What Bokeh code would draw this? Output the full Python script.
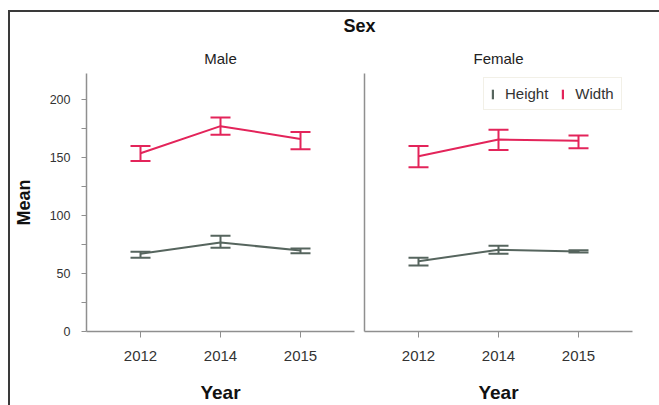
from bokeh.plotting import figure
from bokeh.models import (ColumnDataSource, Whisker, TeeHead, FactorRange, Range1d,
                          FixedTicker, Legend, LegendItem, Label)
from bokeh.layouts import column, row
from bokeh.embed import file_html
from bokeh.resources import INLINE

years = ["2012", "2014", "2015"]

male_height_mean = [67.0, 76.7, 69.8]
male_height_lo = [63.5, 72.2, 67.5]
male_height_hi = [68.7, 82.5, 71.5]
male_width_mean = [153.7, 177.0, 166.0]
male_width_lo = [147.0, 169.5, 157.0]
male_width_hi = [160.0, 184.5, 172.0]

female_height_mean = [60.5, 70.5, 69.0]
female_height_lo = [57.0, 67.0, 68.0]
female_height_hi = [63.5, 74.0, 70.0]
female_width_mean = [151.0, 165.5, 164.5]
female_width_lo = [141.5, 156.5, 158.0]
female_width_hi = [160.0, 174.0, 169.0]

y_major = [0, 50, 100, 150, 200]
y_minor = [25, 75, 125, 175]
y_max = 222.4

RED = "#E3245A"
GRAY = "#56655E"
AXIS = "#8f8f8f"
TXT = "#333333"
FONT = "Liberation Sans"


def panel(name, hm, hlo, hhi, wm, wlo, whi, width, left, right, first):
    p = figure(x_range=FactorRange(factors=years, range_padding=0.175,
                                   range_padding_units="absolute"),
               y_range=Range1d(0, y_max), width=width, height=364,
               output_backend="svg", toolbar_location=None,
               min_border_left=left, min_border_right=right,
               min_border_top=32, min_border_bottom=74)
    p.outline_line_color = None
    p.grid.visible = False
    p.background_fill_color = "white"
    p.border_fill_color = "white"
    p.title.text = name
    p.title.align = "center"
    p.title.standoff = 13
    p.title.text_font = FONT
    p.title.text_font_size = "15px"
    p.title.text_font_style = "normal"
    p.title.text_color = "#222222"

    rends = []
    for mean, lo, hi, col in ((hm, hlo, hhi, GRAY), (wm, wlo, whi, RED)):
        src = ColumnDataSource(dict(x=years, m=mean, lo=lo, hi=hi))
        p.line("x", "m", source=src, line_color=col, line_width=2)
        w = Whisker(base="x", upper="hi", lower="lo", source=src, dimension="height",
                    line_color=col, line_width=2,
                    upper_head=TeeHead(size=20, line_color=col, line_width=2),
                    lower_head=TeeHead(size=20, line_color=col, line_width=2))
        p.add_layout(w)
        # zero-height bar at each mean: invisible in the plot, used as legend key
        r = p.vbar(x="x", top="m", bottom="m", width=0.001, source=src,
                   fill_color=col, line_color=None)
        rends.append(r)

    xa = p.xaxis[0]
    xa.axis_label = "Year"
    xa.axis_label_text_font = FONT
    xa.axis_label_text_font_size = "19px"
    xa.axis_label_text_font_style = "bold"
    xa.axis_label_text_color = "#111111"
    xa.axis_label_standoff = 18
    xa.major_label_text_font = FONT
    xa.major_label_text_font_size = "15px"
    xa.major_label_text_color = TXT
    xa.major_label_standoff = 13
    xa.axis_line_color = AXIS
    xa.axis_line_width = 1.5
    xa.major_tick_line_color = AXIS
    xa.major_tick_out = 6
    xa.major_tick_in = 0

    ya = p.yaxis[0]
    ya.axis_line_color = AXIS
    ya.axis_line_width = 1.5
    if first:
        ya.ticker = FixedTicker(ticks=y_major, minor_ticks=y_minor)
        ya.axis_label = "Mean"
        ya.axis_label_text_font = FONT
        ya.axis_label_text_font_size = "18px"
        ya.axis_label_text_font_style = "bold"
        ya.axis_label_text_color = "#111111"
        ya.axis_label_standoff = 13
        ya.major_label_text_font = FONT
        ya.major_label_text_font_size = "12.5px"
        ya.major_label_text_color = TXT
        ya.major_label_standoff = 11
        ya.major_tick_line_color = AXIS
        ya.minor_tick_line_color = AXIS
        ya.major_tick_out = 5
        ya.major_tick_in = 0
        ya.minor_tick_out = 5
        ya.minor_tick_in = 0
    else:
        ya.ticker = FixedTicker(ticks=[], minor_ticks=[])
        ya.major_label_standoff = 0
        ya.major_tick_line_color = None
        ya.minor_tick_line_color = None
        ya.major_tick_out = 0
        ya.minor_tick_out = 0
        ya.major_tick_in = 0
        ya.minor_tick_in = 0
    return p, rends


left, _ = panel("Male", male_height_mean, male_height_lo, male_height_hi,
                male_width_mean, male_width_lo, male_width_hi, 349, 76, 5, True)
right, (lh, lw) = panel("Female", female_height_mean, female_height_lo, female_height_hi,
                        female_width_mean, female_width_lo, female_width_hi, 300, 5, 27, False)

legend = Legend(items=[LegendItem(label="Height", renderers=[lh]),
                       LegendItem(label="Width", renderers=[lw])],
                orientation="horizontal", location=(119, 221), margin=0,
                padding=7, spacing=13, glyph_width=3, glyph_height=12,
                label_standoff=11, label_text_font=FONT, label_text_font_size="15px",
                label_text_color=TXT, border_line_color="#e6e1cf", border_line_width=1.5,
                background_fill_color="white", background_fill_alpha=1.0)
right.add_layout(legend)

head = figure(width=649, height=29, output_backend="svg", toolbar_location=None,
              x_range=Range1d(0, 1), y_range=Range1d(0, 1),
              x_axis_location=None, y_axis_location=None,
              min_border_left=76, min_border_right=27, min_border_top=0, min_border_bottom=0)
head.outline_line_color = None
head.grid.visible = False
head.add_layout(Label(x=0.5, y=16, y_units="screen", text="Sex", text_align="center",
                      text_baseline="middle", text_font=FONT, text_font_size="18px",
                      text_font_style="bold", text_color="#111111"))

layout = column(head, row(left, right), margin=(10, 0, 0, 8),
                styles={"border-top": "2px solid #3a3a3a", "border-left": "2px solid #3a3a3a"})

open("out.html", "w").write(file_html(layout, INLINE))
